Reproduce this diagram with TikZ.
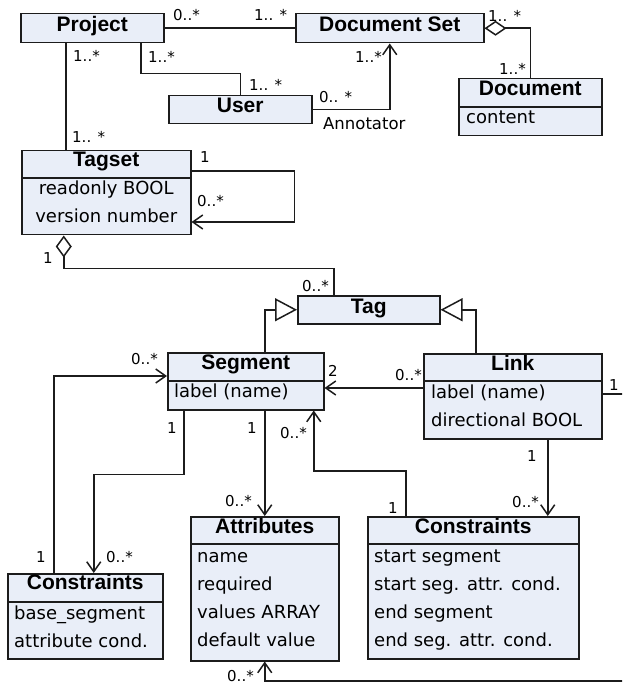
\documentclass[tikz,border=0pt]{standalone}
\usepackage{fontspec}
\setmainfont{DejaVu Sans}
\newfontfamily\titlefont{Liberation Sans}
\usetikzlibrary{arrows.meta}
\definecolor{boxfill}{RGB}{233,238,248}
\definecolor{ink}{RGB}{28,28,28}
\begin{document}
\begin{tikzpicture}[x=1pt,y=-1pt,
  box/.style={draw=ink, fill=boxfill, line width=1.5pt, inner sep=0pt, anchor=north west},
  ttl/.style={font=\titlefont\bfseries\fontsize{21}{21}\selectfont, anchor=base, inner sep=0pt},
  row/.style={font=\fontsize{18}{18}\selectfont, anchor=base west, inner sep=0pt},
  crow/.style={font=\fontsize{18}{18}\selectfont, anchor=base, inner sep=0pt},
  mult/.style={font=\fontsize{15}{15}\selectfont, anchor=base west, inner sep=0pt},
  conn/.style={draw=ink, line width=1.5pt},
  divline/.style={draw=ink, line width=1.5pt},
  oarrow/.style={-{Straight Barb[length=10pt,width=14pt]}},
  tri/.style={-{Triangle[open,length=22pt,width=23pt,fill=white]}},
]
\useasboundingbox (0,0) rectangle (622,684);
\clip (0,0) rectangle (622,684);

% ---------- boxes ----------
\node[box, minimum width=143pt, minimum height=29pt] (proj) at (20,13) {};
\node[box, minimum width=188pt, minimum height=29pt] (docset) at (295,13) {};
\node[box, minimum width=143pt, minimum height=57pt] (doc) at (458,78) {};
\node[box, minimum width=143pt, minimum height=28pt] (user) at (168,95) {};
\node[box, minimum width=169pt, minimum height=84pt] (tagset) at (21,150) {};
\node[box, minimum width=142pt, minimum height=28pt] (tag) at (297,295) {};
\node[box, minimum width=156pt, minimum height=57pt] (seg) at (167,352) {};
\node[box, minimum width=178pt, minimum height=85pt] (link) at (423,353) {};
\node[box, minimum width=155pt, minimum height=85pt] (consL) at (7,573) {};
\node[box, minimum width=148pt, minimum height=144pt] (attr) at (190,516) {};
\node[box, minimum width=211pt, minimum height=142pt] (consR) at (367,516) {};

% dividers
\draw[divline] ([yshift=-29pt]doc.north west) -- ([yshift=-29pt]doc.north east);
\draw[divline] ([yshift=-28pt]tagset.north west) -- ([yshift=-28pt]tagset.north east);
\draw[divline] ([yshift=-29pt]seg.north west) -- ([yshift=-29pt]seg.north east);
\draw[divline] ([yshift=-28pt]link.north west) -- ([yshift=-28pt]link.north east);
\draw[divline] ([yshift=-29pt]consL.north west) -- ([yshift=-29pt]consL.north east);
\draw[divline] ([yshift=-28pt]attr.north west) -- ([yshift=-28pt]attr.north east);
\draw[divline] ([yshift=-28pt]consR.north west) -- ([yshift=-28pt]consR.north east);

% titles
\node[ttl] (tproj) at ([yshift=-19pt]proj.north) {Project};
\node[ttl] (tdocset) at ([yshift=-19pt]docset.north) {Document Set};
\node[ttl] (tdoc) at ([yshift=-18pt]doc.north) {Document};
\node[ttl] (tuser) at ([yshift=-18pt]user.north) {User};
\node[ttl] (ttagset) at ([yshift=-17pt]tagset.north) {Tagset};
\node[ttl] (ttag) at ([yshift=-18pt]tag.north) {Tag};
\node[ttl] (tseg) at ([yshift=-17pt]seg.north) {Segment};
\node[ttl] (tlink) at ([yshift=-17pt]link.north) {Link};
\node[ttl] (tconsL) at ([yshift=-16pt]consL.north) {Constraints};
\node[ttl] (tattr) at ([yshift=-17pt]attr.north) {Attributes};
\node[ttl] (tconsR) at ([yshift=-17pt]consR.north) {Constraints};

% attribute rows
\node[row] (rdoc1) at ([xshift=8pt,yshift=-46pt]doc.north west) {content};
\node[crow] (rts1) at ([yshift=-45pt]tagset.north) {readonly BOOL};
\node[crow] (rts2) at ([yshift=-73pt]tagset.north) {version number};
\node[row] (rseg1) at ([xshift=7pt,yshift=-45pt]seg.north west) {label (name)};
\node[row] (rlink1) at ([xshift=8pt,yshift=-45pt]link.north west) {label (name)};
\node[row] (rlink2) at ([xshift=8pt,yshift=-73pt]link.north west) {directional BOOL};
\node[row] (rcl1) at ([xshift=7pt,yshift=-46pt]consL.north west) {base\_segment};
\node[row] (rcl2) at ([xshift=7pt,yshift=-74pt]consL.north west) {attribute cond.};
\node[row] (ra1) at ([xshift=7pt,yshift=-46pt]attr.north west) {name};
\node[row] (ra2) at ([xshift=7pt,yshift=-74pt]attr.north west) {required};
\node[row] (ra3) at ([xshift=7pt,yshift=-102pt]attr.north west) {values ARRAY};
\node[row] (ra4) at ([xshift=7pt,yshift=-130pt]attr.north west) {default value};
\node[row] (rc1) at ([xshift=7pt,yshift=-46pt]consR.north west) {start segment};
\node[row] (rc2) at ([xshift=7pt,yshift=-74pt]consR.north west) {start seg. attr. cond.};
\node[row] (rc3) at ([xshift=7pt,yshift=-102pt]consR.north west) {end segment};
\node[row] (rc4) at ([xshift=7pt,yshift=-130pt]consR.north west) {end seg. attr. cond.};

% ---------- connectors ----------
\draw[conn] (proj.east) -- (docset.west);
\draw[conn, {Diamond[open,length=22pt,width=15pt,fill=white]}-] (docset.east) -| (doc.north);
\draw[conn] ([xshift=48.5pt]proj.south) -- ++(0,30) -| (user.north);
\draw[conn, oarrow] (user.east) -| (docset.south);
\draw[conn] ([xshift=-26.5pt]proj.south) -- ([xshift=-26.5pt]proj.south |- tagset.north);
\draw[conn, oarrow] ([yshift=-21pt]tagset.north east) -- ++(103,0) |- ([yshift=-72pt]tagset.north east);
\draw[conn, {Diamond[open,length=22pt,width=16pt,fill=white]}-] ([xshift=-42.5pt]tagset.south) -- ++(0,33) -| ([xshift=-35pt]tag.north);
\draw[conn, tri] ([xshift=19pt]seg.north) |- (tag.west);
\draw[conn, tri] ([xshift=-37pt]link.north) |- (tag.east);
\coordinate (l1) at ([yshift=-35pt]link.north west);
\draw[conn, oarrow] (l1) -- (l1 -| seg.east);
\draw[conn, oarrow] ([yshift=-41pt]link.north east) -- ++(40,0) -- ++(0,287) -| (attr.south);
\draw[conn, oarrow] ([xshift=-31.5pt]consL.north) |- ([yshift=-24pt]seg.north west);
\draw[conn, oarrow] ([xshift=-62pt]seg.south) -- ++(0,64) -| ([xshift=8.5pt]consL.north);
\draw[conn, oarrow] (attr.north |- seg.south) -- (attr.north);
\draw[conn, oarrow] ([xshift=-67.5pt]consR.north) -- ++(0,-45) -| ([xshift=68pt]seg.south);
\draw[conn, oarrow] ([xshift=35pt]link.south) -- ([xshift=74.5pt]consR.north);

% ---------- multiplicities ----------
\node[mult] (m1) at (173,21) {0..*};
\node[mult] (m2) at (254,21) {1.. *};
\node[mult] (m3) at (488,22) {1.. *};
\node[mult] (m4) at (499,75) {1..*};
\node[mult] (m5) at (73,62) {1..*};
\node[mult] (m6) at (148,63) {1..*};
\node[mult] (m7) at (249,91) {1.. *};
\node[mult] (m8) at (355,63) {1..*};
\node[mult] (m9) at (319,103) {0.. *};
\node[mult, font=\fontsize{16.5}{16.5}\selectfont] (m10) at (323,130) {Annotator};
\node[mult] (m11) at (72,143) {1.. *};
\node[mult] (m12) at (200,163) {1};
\node[mult] (m13) at (197,207) {0..*};
\node[mult] (m14) at (43,263) {1};
\node[mult] (m15) at (302,291) {0..*};
\node[mult] (m16) at (131,364) {0..*};
\node[mult] (m17) at (328,376) {2};
\node[mult] (m18) at (395,380) {0..*};
\node[mult] (m19) at (609,390) {1};
\node[mult] (m20) at (167,433) {1};
\node[mult] (m21) at (247,433) {1};
\node[mult] (m22) at (280,438) {0..*};
\node[mult] (m23) at (527,461) {1};
\node[mult] (m24) at (225,506) {0..*};
\node[mult] (m25) at (512,507) {0..*};
\node[mult] (m26) at (388,513) {1};
\node[mult] (m27) at (36,562) {1};
\node[mult] (m28) at (106,562) {0..*};
\node[mult] (m29) at (227,681) {0..*};
\end{tikzpicture}
\end{document}
